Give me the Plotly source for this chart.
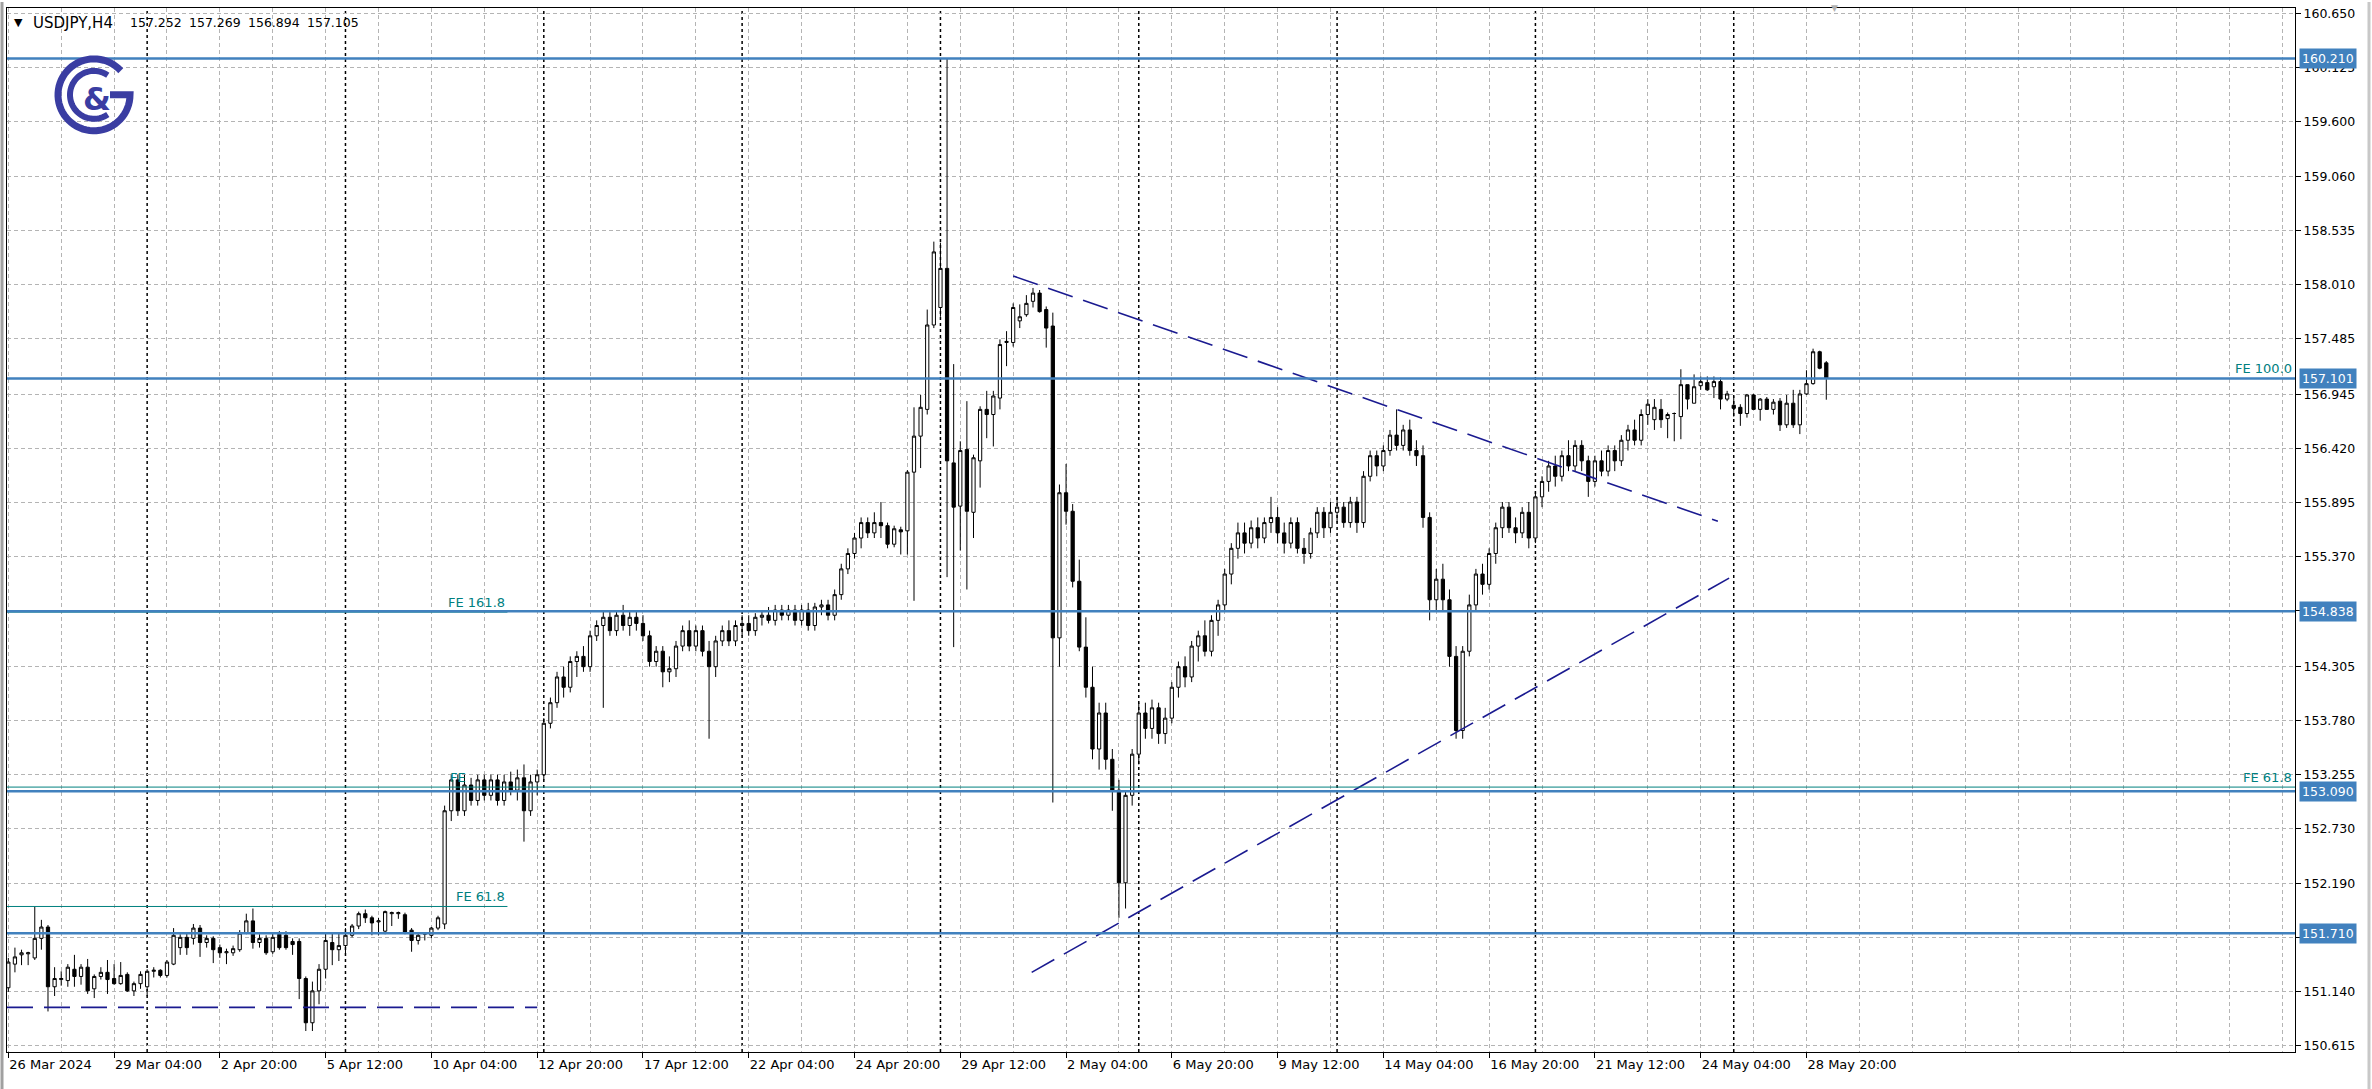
import numpy as np
import plotly.graph_objects as go

# ---------------- data ----------------
bars = list(range(276))

open_ = [
151.18,151.41,151.50,151.51,151.47,151.66,151.77,151.19,151.26,151.25,
151.36,151.29,151.38,151.17,151.29,151.33,151.27,151.22,151.31,151.15,
151.22,151.19,151.34,151.35,151.30,151.41,151.57,151.67,151.66,151.76,
151.62,151.66,151.57,151.52,151.52,151.55,151.71,151.83,151.62,151.66,
151.53,151.70,151.69,151.63,151.63,151.27,150.84,151.15,151.36,151.62,
151.55,151.59,151.69,151.78,151.90,151.86,151.82,151.73,151.90,151.90,
151.89,151.74,151.64,151.70,151.69,151.76,151.80,152.90,153.20,152.90,
153.15,153.00,153.20,153.05,153.20,153.00,153.18,153.10,153.22,152.90,
153.18,153.25,153.75,153.95,154.20,154.10,154.35,154.40,154.30,154.60,
154.70,154.78,154.65,154.80,154.70,154.78,154.72,154.60,154.35,154.45,
154.25,154.28,154.50,154.65,154.50,154.65,154.45,154.30,154.55,154.65,
154.55,154.70,154.72,154.65,154.78,154.80,154.75,154.85,154.80,154.85,
154.75,154.85,154.70,154.88,154.90,154.80,155.00,155.25,155.40,155.55,
155.70,155.60,155.70,155.67,155.49,155.63,155.62,156.19,156.54,156.80,
157.62,157.79,158.17,156.28,155.86,156.41,155.80,156.30,156.80,156.75,
156.91,157.45,157.45,157.66,157.72,157.85,157.93,157.77,157.61,154.58,
155.99,155.81,155.13,154.49,154.10,153.50,153.85,153.40,153.10,152.20,
153.05,153.45,153.85,153.70,153.90,153.65,153.80,154.10,154.30,154.20,
154.50,154.60,154.45,154.75,154.90,155.20,155.45,155.60,155.50,155.65,
155.55,155.70,155.75,155.60,155.50,155.70,155.45,155.40,155.60,155.80,
155.65,155.80,155.85,155.70,155.90,155.70,156.15,156.35,156.25,156.40,
156.55,156.45,156.60,156.40,156.35,155.75,154.95,155.15,154.95,154.40,
153.68,154.45,154.90,155.20,155.10,155.40,155.65,155.85,155.65,155.60,
155.80,155.55,155.95,156.10,156.25,156.15,156.35,156.25,156.45,156.30,
156.10,156.30,156.20,156.40,156.30,156.50,156.60,156.50,156.75,156.70,
156.80,156.71,156.76,156.73,157.04,156.86,157.03,157.06,157.02,157.07,
156.90,156.84,156.82,156.76,156.94,156.80,156.90,156.80,156.88,156.65,
156.86,156.65,156.95,157.05,157.36,157.252]

high = [
151.47,151.57,151.55,151.53,151.97,151.84,151.79,151.38,151.34,151.41,
151.50,151.41,151.46,151.31,151.38,151.45,151.41,151.43,151.33,151.24,
151.34,151.36,151.38,151.36,151.45,151.76,151.70,151.72,151.80,151.79,
151.69,151.68,151.60,151.56,151.59,151.74,151.90,151.95,151.70,151.69,
151.72,151.73,151.73,151.66,151.66,151.29,151.24,151.41,151.72,151.71,
151.72,151.76,151.80,151.92,151.94,151.88,151.86,151.93,151.92,151.92,
151.91,151.76,151.72,151.72,151.77,151.88,152.95,153.25,153.25,153.25,
153.22,153.25,153.25,153.25,153.25,153.25,153.28,153.30,153.35,153.25,
153.30,153.80,154.00,154.25,154.30,154.40,154.45,154.50,154.65,154.75,
154.85,154.85,154.85,154.90,154.85,154.85,154.80,154.65,154.50,154.50,
154.40,154.55,154.70,154.75,154.70,154.70,154.55,154.60,154.70,154.75,
154.75,154.80,154.80,154.82,154.85,154.88,154.90,154.90,154.90,154.90,
154.90,154.92,154.92,154.95,154.95,155.05,155.30,155.45,155.60,155.75,
155.75,155.80,155.90,155.70,155.67,155.66,156.21,156.82,156.94,157.77,
158.43,158.42,160.21,157.24,156.49,156.88,156.36,156.83,156.98,156.98,
157.48,157.56,157.83,157.82,157.91,157.98,157.96,157.80,157.74,156.07,
156.27,155.88,155.34,154.78,154.30,153.95,153.95,153.50,153.20,153.10,
153.50,153.95,153.95,153.98,153.95,153.90,154.15,154.35,154.40,154.55,
154.65,154.75,154.80,154.95,155.25,155.50,155.70,155.70,155.72,155.75,
155.75,155.95,155.85,155.70,155.75,155.75,155.55,155.65,155.85,155.85,
155.90,155.95,155.90,155.95,155.95,156.20,156.40,156.40,156.45,156.60,
156.80,156.65,156.70,156.50,156.45,155.80,155.25,155.30,155.05,154.50,
154.50,155.00,155.25,155.30,155.45,155.70,155.90,155.90,155.75,155.85,
155.90,156.00,156.15,156.30,156.35,156.40,156.50,156.50,156.50,156.35,
156.35,156.40,156.45,156.45,156.55,156.65,156.70,156.80,156.90,156.90,
156.90,156.77,156.77,157.19,157.04,157.14,157.12,157.12,157.12,157.11,
156.98,156.93,156.85,156.95,156.95,156.91,156.92,156.90,156.91,156.94,
156.99,156.99,157.18,157.39,157.37,157.269]

low = [
151.14,151.33,151.40,151.40,151.45,151.55,150.95,151.10,151.20,151.19,
151.19,151.21,151.12,151.08,151.26,151.12,151.21,151.21,151.14,151.10,
151.17,151.10,151.28,151.28,151.28,151.40,151.50,151.50,151.60,151.48,
151.57,151.42,151.47,151.41,151.49,151.53,151.70,151.56,151.57,151.50,
151.51,151.55,151.55,151.50,151.07,150.76,150.76,151.02,151.27,151.40,
151.44,151.50,151.67,151.75,151.81,151.69,151.69,151.70,151.78,151.85,
151.70,151.53,151.60,151.64,151.66,151.74,151.75,152.80,152.85,152.85,
152.95,152.95,153.00,153.00,152.95,152.95,153.05,153.00,152.60,152.85,
153.05,153.20,153.70,153.90,154.00,154.05,154.20,154.25,154.25,154.55,
153.90,154.60,154.60,154.65,154.60,154.65,154.55,154.30,154.30,154.10,
154.15,154.20,154.45,154.45,154.45,154.40,153.60,154.20,154.50,154.50,
154.50,154.60,154.60,154.60,154.70,154.72,154.70,154.75,154.75,154.70,
154.70,154.65,154.65,154.80,154.75,154.75,154.95,155.20,155.35,155.45,
155.55,155.55,155.55,155.45,155.46,155.39,155.39,154.94,156.23,156.75,
157.59,157.70,155.17,154.49,155.43,155.05,155.55,156.04,156.52,156.44,
156.80,157.22,157.41,157.59,157.70,157.79,157.74,157.40,152.98,154.30,
155.68,155.07,154.45,154.00,153.40,153.30,153.30,152.90,151.86,151.95,
152.95,153.35,153.60,153.60,153.55,153.55,153.75,154.00,154.10,154.15,
154.35,154.40,154.40,154.60,154.85,155.10,155.35,155.40,155.45,155.45,
155.50,155.60,155.50,155.40,155.45,155.40,155.30,155.35,155.55,155.55,
155.60,155.70,155.65,155.65,155.60,155.65,156.10,156.15,156.20,156.35,
156.40,156.40,156.35,156.25,155.65,154.75,154.85,154.85,154.30,153.60,
153.60,154.40,154.85,155.00,155.05,155.30,155.55,155.60,155.50,155.55,
155.45,155.50,155.85,156.00,156.05,156.10,156.20,156.20,156.20,155.95,
156.05,156.15,156.15,156.20,156.25,156.40,156.45,156.45,156.65,156.60,
156.62,156.52,156.49,156.51,156.80,156.86,156.99,156.98,156.91,156.80,
156.88,156.73,156.64,156.72,156.80,156.69,156.80,156.75,156.59,156.62,
156.62,156.56,156.94,157.04,157.19,156.894]

close = [
151.43,151.48,151.52,151.52,151.66,151.77,151.19,151.27,151.27,151.38,
151.29,151.38,151.15,151.29,151.33,151.26,151.22,151.30,151.15,151.22,
151.31,151.34,151.35,151.30,151.43,151.69,151.67,151.57,151.76,151.62,
151.66,151.55,151.52,151.53,151.56,151.71,151.83,151.62,151.66,151.52,
151.67,151.57,151.57,151.60,151.27,150.84,151.15,151.36,151.64,151.55,
151.59,151.69,151.78,151.90,151.86,151.81,151.83,151.92,151.91,151.91,
151.72,151.64,151.69,151.71,151.76,151.86,152.90,153.20,152.90,153.15,
153.00,153.20,153.05,153.20,153.00,153.18,153.10,153.22,152.90,153.18,
153.25,153.75,153.95,154.20,154.10,154.35,154.40,154.30,154.60,154.70,
154.78,154.65,154.80,154.70,154.78,154.72,154.60,154.35,154.45,154.25,
154.28,154.50,154.65,154.50,154.65,154.45,154.30,154.55,154.65,154.55,
154.70,154.72,154.65,154.78,154.80,154.75,154.85,154.80,154.85,154.75,
154.85,154.70,154.88,154.90,154.80,155.00,155.25,155.40,155.55,155.70,
155.60,155.70,155.67,155.49,155.64,155.61,156.19,156.54,156.82,157.62,
158.33,158.17,156.30,155.85,156.40,155.81,156.33,156.80,156.75,156.93,
157.43,157.46,157.79,157.70,157.83,157.93,157.75,157.59,154.58,155.99,
155.81,155.13,154.49,154.10,153.50,153.85,153.40,153.10,152.20,153.05,
153.45,153.85,153.70,153.90,153.65,153.80,154.10,154.30,154.20,154.50,
154.60,154.45,154.75,154.90,155.20,155.45,155.60,155.50,155.65,155.55,
155.70,155.75,155.60,155.50,155.70,155.45,155.40,155.60,155.80,155.65,
155.80,155.85,155.70,155.90,155.70,156.15,156.35,156.25,156.40,156.55,
156.45,156.60,156.40,156.35,155.75,154.95,155.15,154.95,154.40,153.68,
154.45,154.90,155.20,155.10,155.40,155.65,155.85,155.65,155.60,155.80,
155.55,155.95,156.10,156.25,156.15,156.35,156.25,156.45,156.30,156.10,
156.30,156.20,156.40,156.30,156.50,156.60,156.50,156.75,156.85,156.82,
156.70,156.75,156.76,157.04,156.90,157.02,157.07,156.99,157.07,156.90,
156.95,156.81,156.76,156.94,156.80,156.90,156.80,156.87,156.65,156.86,
156.65,156.95,157.05,157.36,157.20,157.105]

x_tick_labels = ["26 Mar 2024", "29 Mar 04:00", "2 Apr 20:00", "5 Apr 12:00",
                 "10 Apr 04:00", "12 Apr 20:00", "17 Apr 12:00", "22 Apr 04:00",
                 "24 Apr 20:00", "29 Apr 12:00", "2 May 04:00", "6 May 20:00",
                 "9 May 12:00", "14 May 04:00", "16 May 20:00", "21 May 12:00",
                 "24 May 04:00", "28 May 20:00"]
x_tick_bars = [0, 16, 32, 48, 64, 80, 96, 112, 128, 144, 160, 176, 192, 208,
               224, 240, 256, 272]
grid_bars = [8 * k for k in range(44)]
week_starts = [21, 51, 81, 111, 141, 171, 201, 231, 261]

y_ticks = [160.650, 160.125, 159.600, 159.060, 158.535, 158.010, 157.485,
           156.945, 156.420, 155.895, 155.370, 154.845, 154.305, 153.780,
           153.255, 152.730, 152.190, 151.665, 151.140, 150.615]

levels = [160.210, 157.101, 154.838, 153.090, 151.710]

upper_x = [152.0, 258.6]
upper_y = [158.096, 155.713]
lower_x = [154.8, 260.3]
lower_y = [151.33, 155.16]
base_x = [-0.2, 80.0]
base_y = [150.99, 150.99]

fe_left_end = 75.5
fe_left_levels = [151.97, 154.83]
fe_left_names = ["FE 61.8", "FE 161.8"]
fe_mid_level = 153.13

symbol = "USDJPY,H4"
ohlc_last = ["157.252", "157.269", "156.894", "157.105"]

# ---------------- styling ----------------
W, H = 2372, 1089
L_PX, R_PX, T_PX, B_PX = 7, 2295, 6, 1052
BLUE = "#4181BE"
NAVY = "#1A1A90"
TEAL = "#00807F"
GRID = "#B4B4B4"
FONT = "DejaVu Sans"


def paper(px, py):
    return (px - L_PX) / (R_PX - L_PX), 1 - (py - T_PX) / (B_PX - T_PX)


fig = go.Figure()

fig.add_trace(go.Candlestick(
    x=bars, open=open_, high=high, low=low, close=close,
    increasing=dict(line=dict(color="black", width=1), fillcolor="white"),
    decreasing=dict(line=dict(color="black", width=1), fillcolor="black"),
    whiskerwidth=0, hoverinfo="skip", showlegend=False))

for xs, ys in [(upper_x, upper_y), (lower_x, lower_y), (base_x, base_y)]:
    fig.add_trace(go.Scatter(x=xs, y=ys, mode="lines", hoverinfo="skip",
                             showlegend=False,
                             line=dict(color=NAVY, width=1.6, dash="26px,11px")))

shapes = []
for wb in week_starts:
    shapes.append(dict(type="line", xref="x", yref="paper", x0=wb, x1=wb, y0=0, y1=1,
                       layer="below", line=dict(color="black", width=1.5, dash="3px,3px")))
for lv in fe_left_levels:
    shapes.append(dict(type="line", xref="x", yref="y", x0=-0.2, x1=fe_left_end,
                       y0=lv, y1=lv, line=dict(color=TEAL, width=1)))
shapes.append(dict(type="line", xref="paper", yref="y", x0=0, x1=1,
                   y0=fe_mid_level, y1=fe_mid_level, line=dict(color=TEAL, width=1)))
for lv in levels:
    shapes.append(dict(type="line", xref="paper", yref="y", x0=0, x1=1, y0=lv, y1=lv,
                       line=dict(color=BLUE, width=2.5)))

# logo (decoration)
LOGO = "#3A3DA2"
cx, cy = 94, 93


def arc_path(r, a0, a1, extra=None):
    th = np.radians(np.linspace(a0, a1, 60))
    pts = [paper(cx + r * np.cos(t), cy - r * np.sin(t)) for t in th]
    if extra:
        pts += [paper(px, py) for px, py in extra]
    return "M " + " L ".join(f"{x:.5f},{y:.5f}" for x, y in pts)


shapes.append(dict(type="path", xref="paper", yref="paper",
                   path=arc_path(36, 42, 360, extra=[(cx + 16, cy)]),
                   line=dict(color=LOGO, width=7)))
shapes.append(dict(type="path", xref="paper", yref="paper",
                   path=arc_path(24, 55, 305), line=dict(color=LOGO, width=6)))
# window borders
shapes.append(dict(type="line", xref="paper", yref="paper", x0=paper(2, 0)[0], x1=paper(2, 0)[0],
                   y0=paper(0, 0)[1], y1=paper(0, H)[1], line=dict(color="#A0A0A0", width=3)))
shapes.append(dict(type="line", xref="paper", yref="paper", x0=paper(2369, 0)[0], x1=paper(2369, 0)[0],
                   y0=paper(0, 0)[1], y1=paper(0, H)[1], line=dict(color="#C8C8C8", width=3)))

annotations = []
for lv in levels:
    annotations.append(dict(x=1, xref="paper", y=lv, yref="y", xanchor="left", yanchor="middle",
                            xshift=4, text=f"{lv:.3f}", showarrow=False, bgcolor=BLUE,
                            borderpad=2, font=dict(family=FONT, size=12.5, color="white")))
for lv, name in zip(fe_left_levels, fe_left_names):
    annotations.append(dict(x=fe_left_end, xref="x", y=lv, yref="y", xanchor="right",
                            yanchor="bottom", text=name, showarrow=False,
                            font=dict(family=FONT, size=13, color=TEAL)))
annotations.append(dict(x=66.5, xref="x", y=fe_mid_level, yref="y", xanchor="left",
                        yanchor="bottom", text="FE", showarrow=False,
                        font=dict(family=FONT, size=13, color=TEAL)))
annotations.append(dict(x=1, xref="paper", y=levels[1], yref="y", xanchor="right",
                        yanchor="bottom", text="FE 100.0", showarrow=False, xshift=-1,
                        font=dict(family=FONT, size=13, color=TEAL)))
annotations.append(dict(x=1, xref="paper", y=fe_mid_level, yref="y", xanchor="right",
                        yanchor="bottom", text="FE 61.8", showarrow=False, xshift=-1,
                        font=dict(family=FONT, size=13, color=TEAL)))
# header
for txt, px, size in [("▼", 12, 11), (symbol, 31, 15)] + \
        [(v, p, 12.5) for v, p in zip(ohlc_last, [128, 187, 246, 305])]:
    hx, hy = paper(px, 21)
    annotations.append(dict(x=hx, y=hy, xref="paper", yref="paper", xanchor="left",
                            yanchor="middle", text=txt, showarrow=False,
                            font=dict(family=FONT, size=size, color="black")))
lx, ly = paper(97, 97)
annotations.append(dict(x=lx, y=ly, xref="paper", yref="paper", xanchor="center", yanchor="middle",
                        text="<b>&</b>", showarrow=False,
                        font=dict(family=FONT, size=32, color=LOGO)))
mx, my = paper(1834, 6)
annotations.append(dict(x=mx, y=my, xref="paper", yref="paper", xanchor="center", yanchor="middle",
                        text="▼", showarrow=False, font=dict(family=FONT, size=9, color="#B0B0B0")))

fig.update_layout(
    width=W, height=H,
    margin=dict(l=L_PX, r=W - R_PX, t=T_PX, b=H - B_PX, pad=0),
    paper_bgcolor="white", plot_bgcolor="white",
    showlegend=False, boxgap=0.3,
    shapes=shapes, annotations=annotations,
    xaxis=dict(range=[-0.2, 345.9], tickmode="array", tickvals=x_tick_bars, ticktext=x_tick_labels,
               ticks="outside", ticklen=5, tickcolor="black", ticklabelposition="outside right",
               tickfont=dict(family=FONT, size=13, color="black"),
               showgrid=True, gridcolor=GRID, griddash="4px,3px", gridwidth=1,
               minor=dict(tickvals=grid_bars, showgrid=True, gridcolor=GRID,
                          griddash="4px,3px", gridwidth=1),
               showline=True, linecolor="black", linewidth=1, mirror=True,
               zeroline=False, rangeslider=dict(visible=False)),
    yaxis=dict(side="right", range=[150.556, 160.70], tickmode="array", tickvals=y_ticks,
               ticktext=[f"{v:.3f}" for v in y_ticks], ticks="outside", ticklen=5,
               tickcolor="black", tickfont=dict(family=FONT, size=12.5, color="black"),
               showgrid=True, gridcolor=GRID, griddash="4px,3px", gridwidth=1,
               showline=True, linecolor="black", linewidth=1, mirror=True, zeroline=False),
)

fig.write_html("out.html",
               config={"displayModeBar": False, "staticPlot": True},
               post_script="document.body.style.margin='0';document.body.style.overflow='hidden';")
